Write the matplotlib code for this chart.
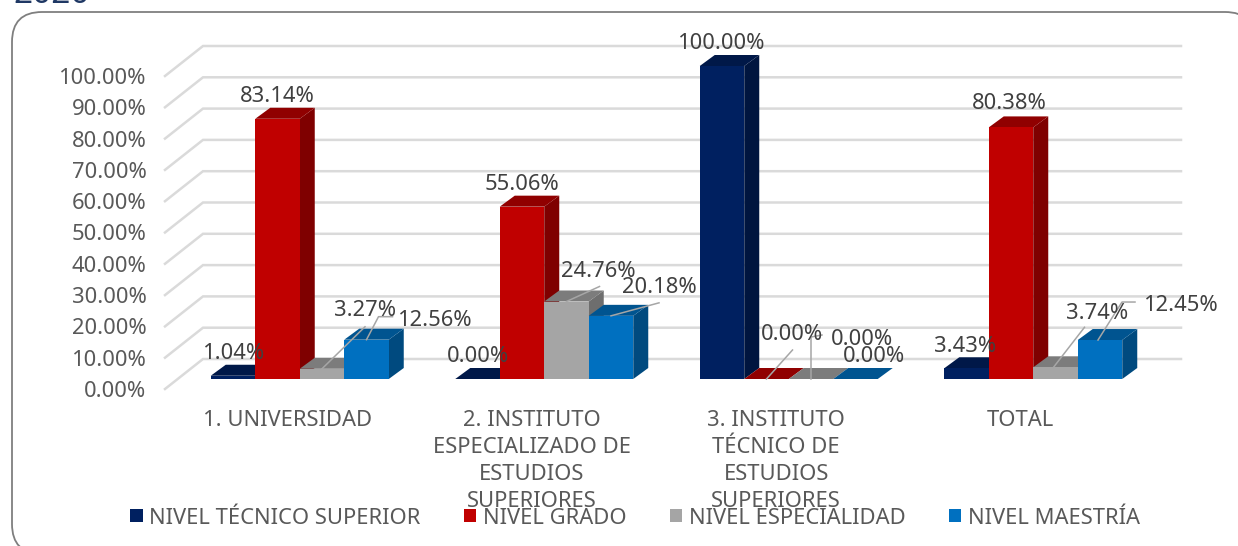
import matplotlib
matplotlib.use("Agg")
import matplotlib.pyplot as plt
from matplotlib.patches import FancyBboxPatch
from matplotlib.transforms import Affine2D

plt.rcParams['font.family'] = ['Noto Sans', 'DejaVu Sans']

categories = ["1. UNIVERSIDAD",
              "2. INSTITUTO\nESPECIALIZADO DE\nESTUDIOS\nSUPERIORES",
              "3. INSTITUTO\nTÉCNICO DE\nESTUDIOS\nSUPERIORES",
              "TOTAL"]
tecnico = [1.04, 0.00, 100.00, 3.43]
grado = [83.14, 55.06, 0.00, 80.38]
especialidad = [3.27, 24.76, 0.00, 3.74]
maestria = [12.56, 20.18, 0.00, 12.45]
series_names = ["NIVEL TÉCNICO SUPERIOR", "NIVEL GRADO", "NIVEL ESPECIALIDAD", "NIVEL MAESTRÍA"]
yticks = [0, 10, 20, 30, 40, 50, 60, 70, 80, 90, 100]

front_colors = ['#002060', '#C00000', '#A5A5A5', '#0070C0']
top_colors = ['#001848', '#900000', '#7C7C7C', '#005490']
side_colors = ['#00153F', '#7F0000', '#6E6E6E', '#004A7F']

W, H = 1238, 546
PX_X = 244.5   # pixels per category
PX_Y = 3.13    # pixels per percent
FONT = 15.8

# depth of the 3d floor and of the bars, in pixels
WALL_DX, WALL_DY = 38, 30
BAR_DX, BAR_DY = 15, 11
FRONT_DX, FRONT_DY = 12.5, 10
BAR_W = 44.5 / PX_X

# label position relative to the top of the bar, pixels (group, series)
label_off = {
    (0, 0): (1, 22.5), (0, 1): (0, 22.5), (0, 2): (43, 58.5), (0, 3): (69, 19.5),
    (1, 0): (0, 22.5), (1, 1): (0, 22.5), (1, 2): (32, 30.5), (1, 3): (48, 28.5),
    (2, 0): (0, 22.5), (2, 1): (25, 44.5), (2, 2): (51, 39.5), (2, 3): (19, 22.5),
    (3, 0): (-1, 21.5), (3, 1): (-2, 23.5), (3, 2): (42, 53.5), (3, 3): (81, 34.5),
}
leaders = {
    (0, 2): [(0, 0), (43, 42)],
    (0, 3): [(0, 0), (12, 23), (26, 23)],
    (1, 2): [(0, 0), (33, 15)],
    (1, 3): [(0, 0), (48, 13)],
    (2, 1): [(0, 0), (26, 29)],
    (2, 2): [(0, 0), (0, 42), (11, 44)],
    (3, 2): [(-2, 0), (29, 40)],
    (3, 3): [(-2, 0), (22, 38), (35, 38)],
}

fig = plt.figure(figsize=(W / 100, H / 100), dpi=100)

# rounded frame, runs off the right and bottom of the picture
frame = FancyBboxPatch((12, 12), 1243, 542, boxstyle="round,pad=0,rounding_size=30",
                       fc='white', ec='#7F7F7F', lw=1.3, zorder=-1)
frame.set_transform(Affine2D().scale(1, -1).translate(0, H))
fig.add_artist(frame)
fig.text(13 / W, 1 - 3 / H, "2020", color='#1F3864', fontsize=24, fontweight='bold',
         ha='left', va='baseline')

ax = fig.add_axes([165 / W, 1 - 389 / H, 978 / W, 313 / H])
ax.set_xlim(-0.5, 3.5)
ax.set_ylim(0, 100)
ax.patch.set_visible(False)
for s in ax.spines.values():
    s.set_visible(False)

# back wall gridlines and side wall diagonals
wdx, wdy = WALL_DX / PX_X, WALL_DY / PX_Y
for v in yticks:
    ax.plot([-0.5, -0.5 + wdx, 3.5 + wdx], [v, v + wdy, v + wdy], color='#DADADA',
            lw=1.8, clip_on=False, zorder=1, solid_joinstyle='miter')

ax.set_xticks(range(4))
ax.set_xticklabels(categories, fontsize=FONT, color='#595959', linespacing=1.38)
ax.set_yticks(yticks)
ax.set_yticklabels(["%.2f%%" % v for v in yticks], fontsize=FONT, color='#595959')
ax.tick_params(axis='both', length=0)
ax.tick_params(axis='x', pad=15)
ax.tick_params(axis='y', pad=13.4)

all_series = [tecnico, grado, especialidad, maestria]
fx, fy = FRONT_DX / PX_X, FRONT_DY / PX_Y
bx, by = BAR_DX / PX_X, BAR_DY / PX_Y
z = 3
for s, values in enumerate(all_series):
    for g, v in enumerate(values):
        x0 = g + fx + (s - 2) * BAR_W
        x1 = x0 + BAR_W
        y0 = fy
        y1 = v + fy
        # side and top faces
        ax.fill([x1, x1 + bx, x1 + bx, x1], [y0, y0 + by, y1 + by, y1],
                color=side_colors[s], lw=0, clip_on=False, zorder=z)
        ax.fill([x0, x1, x1 + bx, x0 + bx], [y1, y1, y1 + by, y1 + by],
                color=top_colors[s], lw=0, clip_on=False, zorder=z)
        ax.bar(x0, v, BAR_W, bottom=fy, align='edge', color=front_colors[s],
               clip_on=False, zorder=z, label=series_names[s] if g == 0 else None)
    z += 1

# data labels on top of everything
for s, values in enumerate(all_series):
    for g, v in enumerate(values):
        xa = g + fx + (s - 2) * BAR_W + BAR_W / 2
        ya = v + fy
        if (g, s) in leaders:
            pts = leaders[(g, s)]
            ax.plot([xa + p[0] / PX_X for p in pts], [ya + p[1] / PX_Y for p in pts],
                    color='#A6A6A6', lw=1.1, clip_on=False, zorder=8)
        dx, dy = label_off[(g, s)]
        ax.text(xa + dx / PX_X, ya + dy / PX_Y, "%.2f%%" % v, fontsize=FONT, color='#404040',
                ha='center', va='center', clip_on=False, zorder=9)

fig.legend(loc='center', bbox_to_anchor=(635 / W, 1 - 518 / H), ncol=4, frameon=False,
           fontsize=FONT, labelcolor='#595959', handlelength=0.56, handleheight=0.56,
           handletextpad=0.28, columnspacing=2.0, borderpad=0, borderaxespad=0)

fig.savefig("out.png", dpi=100)
